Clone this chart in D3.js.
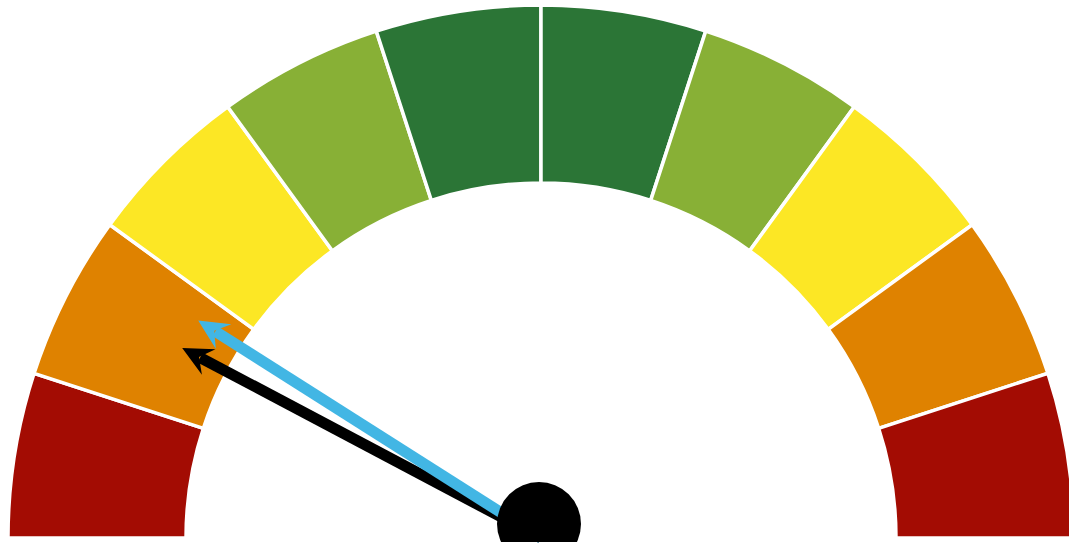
<!DOCTYPE html>
<html>
<head>
<meta charset="utf-8">
<script src="https://cdn.jsdelivr.net/npm/d3@7"></script>
<style>
  body { margin: 0; background: #fff; }
  svg { display: block; }
</style>
</head>
<body>
<svg id="gauge"></svg>
<script>
// gauge bands (0..100), 10 equal steps
const bandStarts = [0, 10, 20, 30, 40, 50, 60, 70, 80, 90]
const bandEnds = [10, 20, 30, 40, 50, 60, 70, 80, 90, 100]
const bandColors = ["#a30c03", "#df8200", "#fce725", "#88b036", "#2b7536",
                    "#2b7536", "#88b036", "#fce725", "#df8200", "#a30c03"]

// needles
const needleNames = ["actual", "target"]
const needleValues = [15.5, 18]
const needleColors = ["#000000", "#42b6e4"]

const width = 1069, height = 543
const cx = 541, cy = 538
const outerR = 533, innerR = 355, needleLen = 406

const svg = d3.select("#gauge")
    .attr("width", width)
    .attr("height", height)

const angle = d3.scaleLinear().domain([0, 100]).range([-Math.PI / 2, Math.PI / 2])

const arc = d3.arc()
    .innerRadius(innerR)
    .outerRadius(outerR)

const g = svg.append("g").attr("transform", `translate(${cx},${cy})`)

g.selectAll("path.band")
    .data(bandStarts)
    .join("path")
    .attr("class", "band")
    .attr("d", (d, i) => arc({ startAngle: angle(d), endAngle: angle(bandEnds[i]) }))
    .attr("fill", (d, i) => bandColors[i])
    .attr("stroke", "#fff")
    .attr("stroke-width", 3.5)

const defs = svg.append("defs")

// shafts
g.selectAll("line.needle")
    .data(needleValues)
    .join("line")
    .attr("class", "needle")
    .attr("x1", 0)
    .attr("y1", 0)
    .attr("x2", d => needleLen * Math.sin(angle(d)) * 0.95)
    .attr("y2", d => -needleLen * Math.cos(angle(d)) * 0.95)
    .attr("stroke", (d, i) => needleColors[i])
    .attr("stroke-width", 11)

// barbed heads
g.selectAll("path.head")
    .data(needleValues)
    .join("path")
    .attr("class", "head")
    .attr("d", "M0,0 L-30,-14.5 L-19,0 L-30,14.5 Z")
    .attr("fill", (d, i) => needleColors[i])
    .attr("transform", d => {
        const a = angle(d)
        const x = needleLen * Math.sin(a), y = -needleLen * Math.cos(a)
        const deg = (a - Math.PI / 2) * 180 / Math.PI
        return `translate(${x},${y}) rotate(${deg})`
    })

// hub, flat cut at the bottom
defs.append("clipPath").attr("id", "hubclip")
    .append("rect").attr("x", 0).attr("y", 0).attr("width", width).attr("height", 542)

svg.append("circle")
    .attr("cx", 539)
    .attr("cy", 524)
    .attr("r", 42)
    .attr("fill", "#000")
    .attr("clip-path", "url(#hubclip)")
</script>
</body>
</html>
